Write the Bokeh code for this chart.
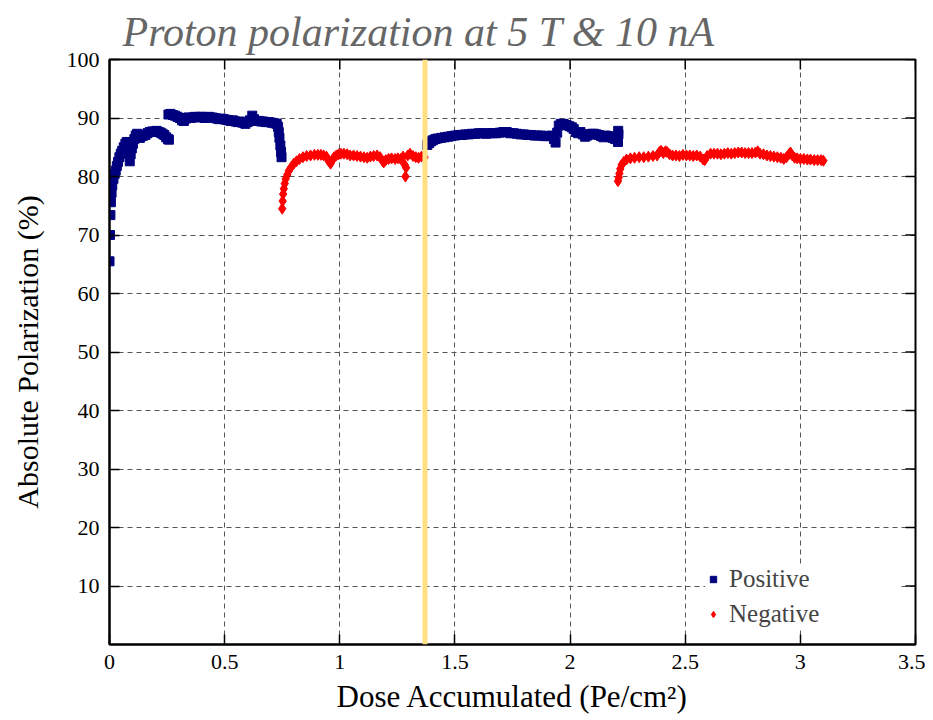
from bokeh.plotting import figure
from bokeh.models import (ColumnDataSource, FixedTicker, Span,
                          Legend, LegendItem, Range1d)
from bokeh.embed import file_html
from bokeh.resources import INLINE

# ---------------- data ----------------
pos_dose = [0.000, 0.002, 0.004, 0.006, 0.009, 0.012, 0.017,
            0.022, 0.027, 0.032, 0.037, 0.043, 0.049, 0.055, 0.062, 0.069, 0.075,
            0.081, 0.085, 0.088, 0.092, 0.097, 0.102, 0.108, 0.114, 0.120, 0.126,
            0.132, 0.140, 0.148, 0.156, 0.165, 0.175, 0.185, 0.195, 0.205, 0.214,
            0.222, 0.230, 0.238, 0.246, 0.254, 0.258,
            0.256, 0.265, 0.275, 0.285, 0.295, 0.305, 0.315, 0.323, 0.332, 0.342,
            0.352, 0.362, 0.372, 0.382, 0.392, 0.402, 0.412, 0.422, 0.432, 0.446,
            0.456, 0.466, 0.476, 0.486, 0.496, 0.506, 0.516, 0.526, 0.536, 0.547,
            0.557, 0.567, 0.577, 0.590, 0.600, 0.610, 0.620, 0.628, 0.638, 0.648,
            0.658, 0.668, 0.680, 0.692, 0.704, 0.716, 0.726, 0.732, 0.735, 0.738,
            0.742, 0.745, 0.747,
            1.380, 1.388, 1.396, 1.405, 1.415, 1.425, 1.440, 1.455, 1.470, 1.485,
            1.500, 1.515, 1.530, 1.545, 1.560, 1.575, 1.590, 1.605, 1.620, 1.635,
            1.650, 1.665, 1.680, 1.695, 1.710, 1.725, 1.740, 1.755, 1.770, 1.785,
            1.800, 1.815, 1.830, 1.845, 1.860, 1.875, 1.890, 1.905, 1.920, 1.930,
            1.937, 1.944, 1.951, 1.960, 1.972, 1.985, 1.997, 2.008, 2.016, 2.025,
            2.035, 2.045, 2.055, 2.065, 2.075, 2.085, 2.095, 2.105, 2.115, 2.125,
            2.135, 2.145, 2.155, 2.165, 2.175, 2.185, 2.195, 2.205, 2.208, 2.209,
            2.210]
pos_pol = [65.5, 70.0, 73.4, 75.6, 77.2, 78.5, 79.6,
           80.4, 81.0, 81.8, 82.5, 83.3, 83.9, 84.4, 85.0, 85.6, 85.9,
           85.9, 84.0, 82.6, 83.8, 84.8, 85.6, 86.4, 87.0, 87.3, 86.8,
           86.6, 86.9, 87.0, 87.1, 87.4, 87.6, 87.7, 87.7, 87.8, 87.6,
           87.5, 87.3, 87.1, 86.7, 86.4, 86.3,
           90.6, 90.7, 90.5, 90.4, 90.2, 90.0, 89.6, 89.5, 89.9, 90.1,
           90.0, 90.1, 90.2, 90.1, 90.2, 90.2, 90.0, 90.1, 90.2, 90.1,
           90.0, 89.9, 89.8, 89.9, 89.8, 89.7, 89.6, 89.5, 89.6, 89.4,
           89.3, 89.4, 89.2, 89.0, 89.3, 89.6, 90.4, 89.8, 89.5, 89.5,
           89.4, 89.4, 89.3, 89.3, 89.2, 89.1, 89.0, 88.5, 87.6, 86.6,
           85.3, 84.2, 83.3,
           85.4, 85.7, 86.0, 86.2, 86.4, 86.5, 86.6, 86.7, 86.8, 86.9,
           87.0, 87.1, 87.1, 87.2, 87.2, 87.3, 87.3, 87.4, 87.4, 87.3,
           87.4, 87.4, 87.4, 87.5, 87.6, 87.6, 87.4, 87.4, 87.3, 87.2,
           87.2, 87.1, 87.1, 87.0, 87.0, 87.0, 86.9, 86.9, 87.0, 86.4,
           85.8, 87.5, 88.7, 89.0, 89.0, 88.8, 88.6, 88.4, 88.1, 87.6,
           87.4, 87.6, 87.2, 86.8, 87.0, 87.2, 87.3, 87.3, 87.2, 87.1,
           86.9, 86.7, 87.0, 86.9, 86.8, 86.6, 86.4, 86.5, 85.9, 87.8,
           87.2]

neg_dose = [0.750, 0.752, 0.754, 0.757, 0.761, 0.765, 0.772, 0.779, 0.789, 0.800,
            0.812, 0.825, 0.840, 0.856, 0.873, 0.890, 0.905, 0.918, 0.930, 0.942,
            0.952, 0.960, 0.968, 0.975, 0.985, 0.995, 1.005, 1.018, 1.032, 1.045,
            1.060, 1.075, 1.090, 1.105, 1.119, 1.133, 1.147, 1.162, 1.175, 1.185,
            1.191, 1.200, 1.212, 1.225, 1.240, 1.252, 1.264, 1.275, 1.282, 1.285,
            1.288, 1.295, 1.305, 1.318, 1.330, 1.342, 1.355, 1.368,
            2.208, 2.211, 2.214, 2.218, 2.224, 2.233, 2.245, 2.262, 2.280, 2.300,
            2.320, 2.340, 2.360, 2.378, 2.388, 2.395, 2.405, 2.414, 2.421, 2.432,
            2.445, 2.460, 2.475, 2.490, 2.505, 2.520, 2.535, 2.550, 2.565, 2.578,
            2.585, 2.595, 2.610, 2.625, 2.640, 2.655, 2.670, 2.685, 2.700, 2.715,
            2.730, 2.745, 2.760, 2.775, 2.790, 2.805, 2.815, 2.825, 2.840, 2.855,
            2.870, 2.885, 2.900, 2.915, 2.928, 2.940, 2.950, 2.957, 2.965, 2.975,
            2.986, 3.000, 3.015, 3.030, 3.044, 3.060, 3.075, 3.090, 3.100]
neg_pol = [74.5, 75.8, 77.0, 77.9, 78.8, 79.6, 80.3, 81.0, 81.6, 82.2,
           82.6, 83.0, 83.3, 83.5, 83.6, 83.7, 83.7, 83.7, 83.6, 83.4,
           82.6, 82.2, 82.8, 83.3, 83.6, 83.8, 83.9, 83.9, 83.8, 83.6,
           83.6, 83.5, 83.4, 83.3, 83.2, 83.4, 83.5, 83.6, 83.3, 82.7,
           82.4, 82.8, 83.0, 83.1, 83.0, 83.1, 83.0, 83.4, 82.0, 80.0,
           81.5, 83.6, 83.9, 83.5, 83.3, 83.2, 83.4, 83.3,
           79.2, 79.8, 80.5, 81.3, 82.0, 82.5, 82.9, 83.1, 83.2, 83.3,
           83.3, 83.4, 83.5, 83.6, 84.2, 84.4, 84.0, 84.3, 84.2, 83.8,
           83.6, 83.6, 83.5, 83.7, 83.6, 83.6, 83.5, 83.6, 83.4, 82.9,
           82.8, 83.5, 83.9, 83.9, 83.9, 83.8, 83.9, 84.0, 83.9, 84.0,
           84.1, 84.1, 84.0, 84.0, 84.0, 84.1, 84.3, 83.9, 83.8, 83.6,
           83.5, 83.4, 83.3, 83.2, 83.0, 83.3, 83.8, 84.1, 83.6, 83.2,
           83.1, 83.0, 83.0, 82.9, 82.9, 82.8, 82.8, 82.8, 82.7]

boundary_dose = 1.37

x_ticks = [0, 0.5, 1, 1.5, 2, 2.5, 3, 3.5]
x_tick_labels = ["0", "0.5", "1", "1.5", "2", "2.5", "3", "3.5"]
y_ticks = [10, 20, 30, 40, 50, 60, 70, 80, 90, 100]
y_tick_labels = ["10", "20", "30", "40", "50", "60", "70", "80", "90", "100"]

SERIF = "Liberation Serif"
X0, X1, Y0, Y1 = 0, 3.5, 0, 100
W, H = 925, 720
BL, BR, BT, BB = 109, 10, 59, 76

p = figure(width=W, height=H, output_backend="svg", toolbar_location=None,
           x_range=Range1d(X0, X1), y_range=Range1d(Y0, Y1),
           min_border_left=BL, min_border_right=BR,
           min_border_top=BT, min_border_bottom=BB,
           background_fill_color="white", border_fill_color="white")

p.title.text = "Proton polarization at 5 T & 10 nA"
p.title.text_font = SERIF
p.title.text_font_style = "italic"
p.title.text_font_size = "42px"
p.title.text_color = "#666666"
p.title.align = "left"
p.title.offset = 13
p.title.standoff = 10

p.outline_line_color = "black"
p.outline_line_width = 2
p.outline_line_alpha = 1

xa = p.xaxis[0]
ya = p.yaxis[0]
xa.ticker = FixedTicker(ticks=x_ticks)
ya.ticker = FixedTicker(ticks=y_ticks)
xa.major_label_overrides = {t: s for t, s in zip(x_ticks, x_tick_labels)}
ya.major_label_overrides = {t: s for t, s in zip(y_ticks, y_tick_labels)}
xa.axis_label = "Dose Accumulated (Pe/cm²)"
ya.axis_label = "Absolute Polarization (%)"
for ax in (xa, ya):
    ax.major_tick_in = 10
    ax.major_tick_out = 0
    ax.minor_tick_line_color = None
    ax.axis_line_width = 2
    ax.major_tick_line_width = 1.5
    ax.major_label_text_font = SERIF
    ax.major_label_text_font_size = "22px"
    ax.major_label_text_color = "black"
    ax.axis_label_text_font = SERIF
    ax.axis_label_text_font_style = "normal"
    ax.axis_label_text_color = "black"
xa.major_label_standoff = 10
xa.axis_label_standoff = 7
xa.axis_label_text_font_size = "31px"
ya.major_label_standoff = 10
ya.axis_label_standoff = 20
ya.axis_label_text_font_size = "30px"

for g in (p.xgrid[0], p.ygrid[0]):
    g.grid_line_color = "#555555"
    g.grid_line_width = 1
    g.grid_line_dash = "5 4"
    g.grid_line_alpha = 1

# mirrored inward ticks on the top and right edges (10 px long)
frame_w_px, frame_h_px = W - BL - BR, H - BT - BB
tick_dy = 10 * (Y1 - Y0) / frame_h_px
tick_dx = 10 * (X1 - X0) / frame_w_px
p.segment(x0=x_ticks, y0=[Y1] * len(x_ticks), x1=x_ticks, y1=[Y1 - tick_dy] * len(x_ticks),
          line_color="black", line_width=1.5)
p.segment(x0=[X1] * len(y_ticks), y0=y_ticks, x1=[X1 - tick_dx] * len(y_ticks), y1=y_ticks,
          line_color="black", line_width=1.5)

pos_src = ColumnDataSource(dict(dose=pos_dose, pol=pos_pol))
neg_src = ColumnDataSource(dict(dose=neg_dose, pol=neg_pol))

r_neg = p.scatter(x="dose", y="pol", source=neg_src, marker="diamond", size=11,
                  fill_color="#FF0000", line_color="#FF0000")
r_pos = p.scatter(x="dose", y="pol", source=pos_src, marker="square", size=9,
                  fill_color="#00007F", line_color="#00007F")

p.add_layout(Span(location=boundary_dose, dimension="height", line_color="#FFE083",
                  line_width=5))

legend = Legend(items=[LegendItem(label="Positive", renderers=[r_pos]),
                       LegendItem(label="Negative", renderers=[r_neg])],
                location="bottom_right", margin=15, padding=6, spacing=5,
                glyph_width=16, glyph_height=30, label_height=30, label_width=171,
                label_standoff=8,
                label_text_font=SERIF, label_text_font_size="25px",
                background_fill_color="white", background_fill_alpha=1,
                border_line_color=None)
p.add_layout(legend)

open("out.html", "w").write(file_html(p, INLINE))
